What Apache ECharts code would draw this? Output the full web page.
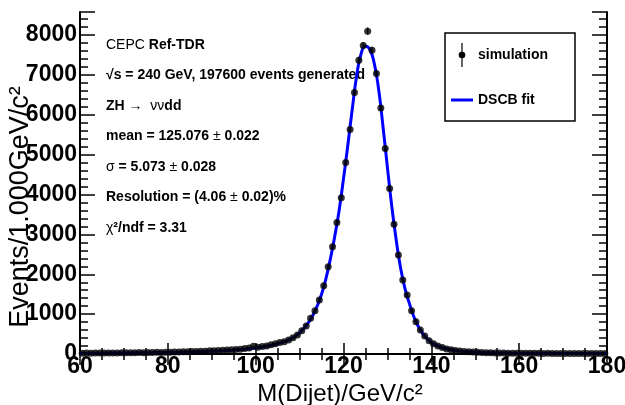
<!DOCTYPE html>
<html><head><meta charset="utf-8">
<script src="https://cdn.jsdelivr.net/npm/echarts@6/dist/echarts.min.js"></script>
<style>html,body{margin:0;padding:0;background:#fff}#c{width:625px;height:405px}</style>
</head><body><div id="c"></div>
<script>
// Histogram: 1 GeV bins from 60 to 180 (bin centres 60.5 ... 179.5)
const binLow = 60;
const binWidth = 1;
const counts = [
  20, 23, 19, 25, 22, 27, 24, 28, 26, 31,
  29, 33, 30, 35, 34, 38, 36, 41, 40, 44,
  45, 49, 50, 55, 56, 62, 63, 70, 72, 79,
  83, 90, 92, 102, 108, 116, 122, 138, 150, 195,
  168, 190, 200, 232, 255, 290, 310, 350, 405, 476,
  585, 702, 894, 1085, 1353, 1712, 2190, 2690, 3300, 3917,
  4805, 5630, 6560, 7370, 7740, 8100, 7620, 7040, 6170, 5155,
  4153, 3258, 2481, 1855, 1480, 1085, 810, 600, 450, 330,
  255, 200, 160, 128, 105, 88, 74, 63, 55, 48,
  42, 38, 34, 30, 28, 25, 23, 21, 20, 18,
  19, 17, 18, 16, 17, 15, 16, 14, 15, 13,
  15, 14, 12, 13, 12, 14, 11, 12, 11, 12
];
// DSCB fit curve sampled at integer masses 60 ... 180
const fitStart = 60;
const fitValues = [
  18, 19, 19, 20, 21, 22, 22, 23, 24, 25,
  26, 27, 28, 29, 30, 32, 33, 35, 36, 38,
  40, 42, 44, 46, 49, 52, 55, 58, 62, 66,
  70, 75, 80, 86, 93, 100, 108, 117, 127, 139,
  152, 167, 185, 206, 230, 258, 290, 330, 380, 445,
  530, 645, 785, 965, 1200, 1500, 1890, 2380, 2950, 3600,
  4400, 5250, 6150, 6980, 7530, 7720, 7640, 7290, 6640, 5700,
  4680, 3700, 2860, 2160, 1640, 1270, 940, 700, 520, 390,
  295, 228, 180, 145, 118, 98, 83, 71, 61, 53,
  47, 42, 38, 34, 31, 28, 26, 24, 22, 21,
  20, 19, 18, 18, 17, 17, 16, 16, 15, 15,
  15, 14, 14, 14, 13, 13, 13, 12, 12, 12, 12
];
const xMin = 60, xMax = 180, xStep = 20;
const yMin = 0, yMax = 8580, yStep = 1000;
const infoLines = [
  '{r|CEPC }{b|Ref-TDR}',
  '{b|√s = 240 GeV, 197600 events generated}',
  '{b|ZH }{r|→  νν}{b|dd}',
  '{b|mean = 125.076 }{r|±}{b| 0.022}',
  '{r|σ}{b| = 5.073 }{r|±}{b| 0.028}',
  '{b|Resolution = (4.06 }{r|±}{b| 0.02)%}',
  '{r|χ}{b|²/ndf = 3.31}'
];
const legendNames = ['simulation', 'DSCB fit'];
const xTitle = 'M(Dijet)/GeV/c²';
const yTitle = 'Events/1.000GeV/c²';

const FONT = '"Liberation Sans", Arial, Helvetica, sans-serif';
const pts = counts.map((c, i) => [binLow + binWidth * (i + 0.5), c, Math.sqrt(c)]);
const fit = fitValues.map((v, i) => [fitStart + i, v]);

const chart = echarts.init(document.getElementById('c'), null, {renderer: 'canvas'});

const axisCommon = {
  axisLine: {show: true, lineStyle: {color: '#000', width: 2}},
  splitLine: {show: false},
  minorSplitLine: {show: false}
};

const graphics = [];
infoLines.forEach((t, i) => {
  graphics.push({
    type: 'text', x: 106, y: 45 + i * 30.5, silent: true,
    style: {
      text: t, textVerticalAlign: 'middle', textAlign: 'left',
      rich: {
        b: {fontFamily: FONT, fontWeight: 'bold', fontSize: 14, fill: '#000'},
        r: {fontFamily: FONT, fontWeight: 'normal', fontSize: 14, fill: '#000'}
      }
    }
  });
});
// legend box
graphics.push({type: 'rect', shape: {x: 445, y: 33, width: 130, height: 88}, style: {fill: '#fff', stroke: '#000', lineWidth: 1.5}, z: 10});
graphics.push({type: 'line', shape: {x1: 462, y1: 43, x2: 462, y2: 67}, style: {stroke: '#000', lineWidth: 1.2}, z: 11});
graphics.push({type: 'circle', shape: {cx: 462, cy: 55, r: 3.3}, style: {fill: '#000'}, z: 11});
graphics.push({type: 'text', x: 478, y: 55, z: 11, style: {text: legendNames[0], font: 'bold 14px ' + FONT, fill: '#000', textVerticalAlign: 'middle'}});
graphics.push({type: 'line', shape: {x1: 451, y1: 100, x2: 473, y2: 100}, style: {stroke: '#0000ff', lineWidth: 3}, z: 11});
graphics.push({type: 'text', x: 478, y: 100, z: 11, style: {text: legendNames[1], font: 'bold 14px ' + FONT, fill: '#000', textVerticalAlign: 'middle'}});
// axis titles
graphics.push({type: 'text', x: 340, y: 394, style: {text: xTitle, font: '24px ' + FONT, fill: '#000', textAlign: 'center', textVerticalAlign: 'middle'}});
graphics.push({type: 'text', x: 21, y: 207, rotation: Math.PI / 2, style: {text: yTitle, font: '27px ' + FONT, fill: '#000', textAlign: 'center', textVerticalAlign: 'middle'}});

chart.setOption({
  animation: false,
  backgroundColor: '#fff',
  grid: {left: 80, right: 18, top: 12, bottom: 51, containLabel: false, outerBoundsMode: 'none'},
  xAxis: [
    Object.assign({}, axisCommon, {
      type: 'value', min: xMin, max: xMax, interval: xStep, position: 'bottom',
      axisTick: {show: true, inside: true, length: 11, lineStyle: {color: '#000', width: 1.5}},
      minorTick: {show: true, splitNumber: 4, length: 6, lineStyle: {color: '#000', width: 1.5}},
      axisLabel: {show: true, fontFamily: FONT, fontWeight: 'bold', fontSize: 23, color: '#000', margin: 1, showMinLabel: true, showMaxLabel: true}
    }),
    Object.assign({}, axisCommon, {
      type: 'value', min: xMin, max: xMax, interval: xStep, position: 'top',
      axisTick: {show: true, inside: true, length: 11, lineStyle: {color: '#000', width: 1.5}},
      minorTick: {show: true, splitNumber: 4, length: 6, lineStyle: {color: '#000', width: 1.5}},
      axisLabel: {show: false}
    })
  ],
  yAxis: [
    Object.assign({}, axisCommon, {
      type: 'value', min: yMin, max: yMax, interval: yStep, position: 'left',
      axisTick: {show: true, inside: true, length: 15, lineStyle: {color: '#000', width: 1.5}},
      minorTick: {show: true, splitNumber: 5, length: 8, lineStyle: {color: '#000', width: 1.5}},
      axisLabel: {show: true, fontFamily: FONT, fontWeight: 'bold', fontSize: 23, color: '#000', margin: 3, showMaxLabel: false,
        formatter: v => (v % 1000 === 0 ? String(v) : '')}
    }),
    Object.assign({}, axisCommon, {
      type: 'value', min: yMin, max: yMax, interval: yStep, position: 'right',
      axisTick: {show: true, inside: true, length: 15, lineStyle: {color: '#000', width: 1.5}},
      minorTick: {show: true, splitNumber: 5, length: 8, lineStyle: {color: '#000', width: 1.5}},
      axisLabel: {show: false}
    })
  ],
  series: [
    {
      name: legendNames[1], type: 'line', data: fit, xAxisIndex: 0, yAxisIndex: 0,
      showSymbol: false, smooth: 0.5, lineStyle: {color: '#0000ff', width: 3}, z: 3, silent: true
    },
    {
      name: 'errors', type: 'custom', data: pts, xAxisIndex: 0, yAxisIndex: 0, z: 4, silent: true,
      renderItem: (params, api) => {
        const x = api.value(0), y = api.value(1), e = api.value(2);
        const a = api.coord([x, y - e]), b = api.coord([x, y + e]);
        return {type: 'line', shape: {x1: a[0], y1: a[1], x2: b[0], y2: b[1]}, style: {stroke: '#000', lineWidth: 1.2}};
      }
    },
    {
      name: legendNames[0], type: 'scatter', data: pts.map(p => [p[0], p[1]]), xAxisIndex: 0, yAxisIndex: 0,
      symbol: 'circle', symbolSize: 7, itemStyle: {color: '#000'}, z: 5, silent: true
    }
  ],
  graphic: graphics
});
</script>
</body></html>
